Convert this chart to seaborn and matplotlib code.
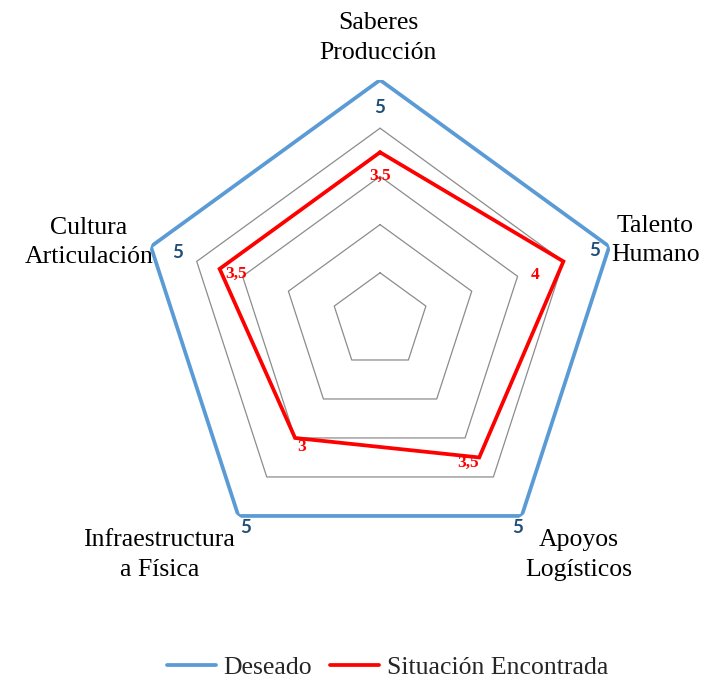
import numpy as np
import pandas as pd
import matplotlib
matplotlib.use("Agg")
import matplotlib.pyplot as plt
import seaborn as sns
from matplotlib.lines import Line2D

categories = ["Saberes\nProducción", "Talento\nHumano", "Apoyos\nLogísticos",
              "Infraestructura\na Física", "Cultura\nArticulación"]
deseado = [5, 5, 5, 5, 5]
encontrada = [3.5, 4, 3.5, 3, 3.5]
series_names = ["Deseado", "Situación Encontrada"]
label_deseado = ["5", "5", "5", "5", "5"]
label_encontrada = ["3,5", "4", "3,5", "3", "3,5"]
grid_levels = [1, 2, 3, 4, 5]

sns.set_theme(style="white")
plt.rcParams['font.family'] = ['Liberation Serif', 'DejaVu Serif']

n = len(categories)
theta = np.deg2rad(np.arange(n) * 360.0 / n)
theta_c = np.append(theta, theta[0])

rows = []
for name, vals in zip(series_names, [deseado, encontrada]):
    vv = list(vals) + [vals[0]]
    for i, (t, v) in enumerate(zip(theta_c, vv)):
        rows.append({"theta": t, "value": v, "series": name, "order": i})
df = pd.DataFrame(rows)

fig = plt.figure(figsize=(7.10, 6.85), dpi=100)
ax = fig.add_axes([0.1958, 0.1796, 0.679, 0.7036], projection="polar")
ax.set_theta_zero_location("N")
ax.set_theta_direction(-1)
ax.set_ylim(0, 5)
ax.grid(False)
ax.spines["polar"].set_visible(False)
ax.patch.set_alpha(0)

# pentagonal grid
for lvl in grid_levels:
    ax.plot(theta_c, [lvl] * (n + 1), color="#8c8c8c", lw=0.9, zorder=1)

palette = {"Deseado": "#5B9BD5", "Situación Encontrada": "#FF0000"}
sns.lineplot(data=df, x="theta", y="value", hue="series", sort=False,
             estimator=None, units="series", palette=palette, linewidth=2.7,
             ax=ax, legend=False, zorder=3)
for l in ax.lines[-2:]:
    l.set_solid_joinstyle("miter")
ax.set_xlabel("")
ax.set_ylabel("")
ax.set_xticks([])
ax.set_yticks([])
ax.set_ylim(0, 5)

# category labels (pixel offsets from the outer vertices)
cat_off = [(-2, 42), (46, 6), (57, -39), (-79, -39), (-62, 4)]
for t, c, off in zip(theta, categories, cat_off):
    ax.annotate(c, xy=(t, 5), xytext=off, textcoords="offset pixels",
                ha="center", va="center", fontsize=18.5, color="black",
                linespacing=1.42, annotation_clip=False)

# data labels
blue_off = [(0, -27), (-15, -4), (-4, -12), (7, -12), (27, -6)]
for t, v, s, off in zip(theta, deseado, label_deseado, blue_off):
    ax.annotate(s, xy=(t, v), xytext=off, textcoords="offset pixels",
                ha="center", va="center", fontsize=13.5, fontweight="bold",
                color="#1F4E79", family=["Lato", "DejaVu Sans"],
                annotation_clip=False, zorder=5)
red_off = [(0, -24), (-28, -14), (-11, -5), (7, -9), (16, -5)]
for t, v, s, off in zip(theta, encontrada, label_encontrada, red_off):
    ax.annotate(s, xy=(t, v), xytext=off, textcoords="offset pixels",
                ha="center", va="center", fontsize=12.5, fontweight="bold",
                color="#FF0000", annotation_clip=False, zorder=5)

handles = [Line2D([], [], color=palette[s], lw=2.7) for s in series_names]
fig.legend(handles, series_names, loc="center", bbox_to_anchor=(0.546, 0.025),
           ncol=2, frameon=False, fontsize=18.5, handlelength=1.9,
           handletextpad=0.3, columnspacing=0.7)

fig.savefig("out.png", dpi=100)
